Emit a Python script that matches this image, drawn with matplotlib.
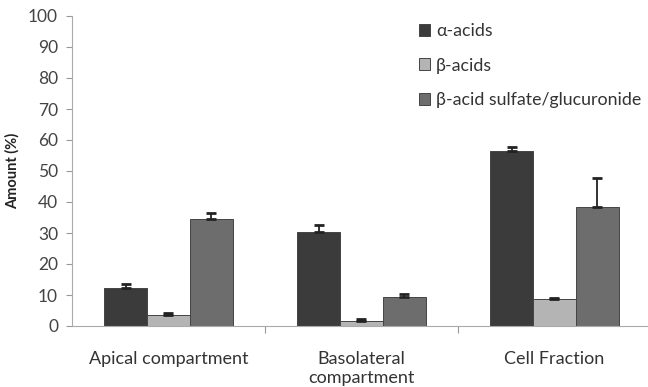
import numpy as np
import matplotlib.pyplot as plt
from matplotlib.patches import Patch

plt.rcParams['font.family'] = ['Lato', 'DejaVu Sans']

categories = ['Apical compartment', 'Basolateral\ncompartment', 'Cell Fraction']
series = ['\u03b1-acids', '\u03b2-acids', '\u03b2-acid sulfate/glucuronide']
alpha_vals = [12.3, 30.2, 56.3]
alpha_err = [1.3, 2.4, 1.5]
beta_vals = [3.6, 1.7, 8.6]
beta_err = [0.5, 0.6, 0.4]
sulf_vals = [34.6, 9.2, 38.4]
sulf_err = [2.0, 1.0, 9.2]
colors = ['#3b3b3b', '#b4b4b4', '#6d6d6d']

fig = plt.figure(figsize=(6.48, 3.87), dpi=100)
ax = fig.add_axes([72 / 648, 61 / 387, 579 / 648, 310 / 387])

x = np.arange(len(categories))
w = 0.222
vals = [alpha_vals, beta_vals, sulf_vals]
errs = [alpha_err, beta_err, sulf_err]
for i in range(3):
    xs = x + (i - 1) * w
    ax.bar(xs, vals[i], w, color=colors[i], edgecolor='#444444', linewidth=0.7, zorder=2)
    ax.errorbar(xs, vals[i], yerr=[np.zeros(3), errs[i]], fmt='none',
                ecolor='#222222', elinewidth=1.3, capsize=3.5, capthick=2, zorder=3)

ax.set_xlim(-0.5, 2.5)
ax.set_ylim(0, 100)
ax.set_yticks(range(0, 101, 10))
ax.set_xticks([0.5, 1.5])
ax.set_xticklabels([])
ax.set_xticks(x, minor=True)
ax.set_xticklabels(categories, minor=True, fontsize=13, color='#333333', linespacing=1.2)
ax.tick_params(axis='x', which='minor', length=0, pad=18)
ax.tick_params(axis='x', which='major', length=5, color='#999999', direction='out')
ax.tick_params(axis='y', length=4, color='#999999', labelsize=12.5, labelcolor='#444444', pad=6)
for s in ['top', 'right']:
    ax.spines[s].set_visible(False)
for s in ['left', 'bottom']:
    ax.spines[s].set_color('#aaaaaa')
ax.set_ylabel('Amount (%)', fontsize=10.5, fontweight='bold', color='#222222', labelpad=6)

handles = [Patch(facecolor=c, edgecolor='#444444', linewidth=0.7) for c in colors]
fig.legend(handles, series, loc='upper left', bbox_to_anchor=(410 / 648, 1 - 14 / 387),
           frameon=False, fontsize=12.8, handlelength=0.65, handleheight=0.65,
           handletextpad=0.3, labelspacing=1.05, borderpad=0, labelcolor='#333333')

fig.savefig('out.png', dpi=100)
